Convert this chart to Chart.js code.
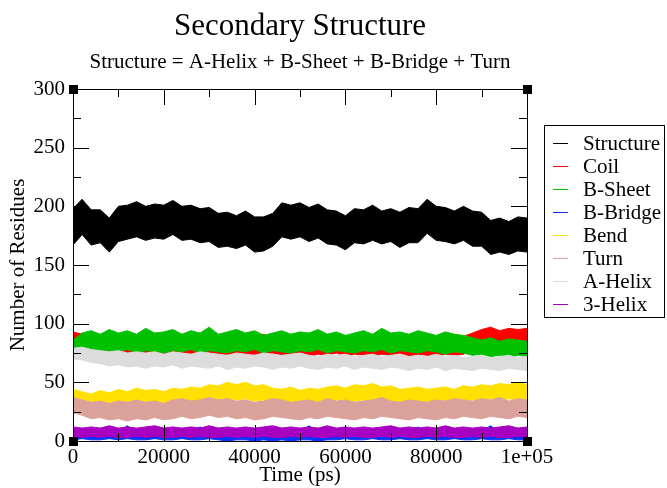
<!DOCTYPE html>
<html>
<head>
<meta charset="utf-8">
<title>Secondary Structure</title>
<style>
  html, body { margin: 0; padding: 0; background: #ffffff; }
  #wrap { width: 667px; height: 488px; }
</style>
<script src="https://cdn.jsdelivr.net/npm/chart.js@4.4.1/dist/chart.umd.min.js"></script>
</head>
<body>
<div id="wrap"><canvas id="ssChart" width="667" height="488"></canvas></div>
<script>
// time axis (ps), one sample every 2000 ps
const timePs = [
    0, 2000, 4000, 6000, 8000, 10000, 12000, 14000, 16000, 18000,
    20000, 22000, 24000, 26000, 28000, 30000, 32000, 34000, 36000, 38000,
    40000, 42000, 44000, 46000, 48000, 50000, 52000, 54000, 56000, 58000,
    60000, 62000, 64000, 66000, 68000, 70000, 72000, 74000, 76000, 78000,
    80000, 82000, 84000, 86000, 88000, 90000, 92000, 94000, 96000, 98000,
    100000
];

const seriesNames = ['Structure', 'Coil', 'B-Sheet', 'B-Bridge', 'Bend', 'Turn', 'A-Helix', '3-Helix'];
const seriesColors = ['#000000', '#ff0000', '#00c000', '#0033ff', '#ffe000', '#dba29c', '#dcdcdc', '#a800c0'];

const xTickLabels = ['0', '20000', '40000', '60000', '80000', '1e+05'];
const yTickLabels = ['0', '50', '100', '150', '200', '250', '300'];

// lower / upper edge of each noisy band
const structureLow = [
    167, 176, 167, 169, 161, 170, 172, 174, 171, 173,
    172, 176, 171, 172, 169, 170, 165, 166, 164, 167,
    161, 162, 166, 174, 172, 174, 170, 173, 168, 167,
    163, 169, 168, 171, 168, 170, 165, 169, 169, 177,
    171, 170, 168, 171, 166, 166, 159, 161, 159, 162,
    161
];
const structureHigh = [
    198, 206, 197, 197, 190, 200, 201, 204, 200, 202,
    201, 205, 200, 201, 198, 199, 194, 195, 192, 196,
    191, 191, 194, 203, 201, 203, 199, 202, 197, 196,
    192, 198, 197, 201, 196, 198, 195, 199, 198, 206,
    200, 199, 196, 200, 196, 195, 188, 190, 187, 191,
    190
];
const coilLow = [
    76, 77, 75, 73, 74, 72, 74, 73, 75, 72,
    74, 73, 72, 74, 73, 75, 72, 74, 73, 72,
    74, 73, 75, 72, 74, 73, 72, 74, 73, 75,
    72, 74, 73, 72, 74, 73, 75, 72, 74, 73,
    72, 74, 73, 74, 77, 81, 80, 82, 80, 81,
    80
];
const coilHigh = [
    93, 91, 88, 90, 87, 89, 91, 88, 90, 87,
    92, 88, 90, 87, 89, 91, 88, 90, 87, 89,
    88, 91, 87, 89, 88, 90, 87, 89, 91, 88,
    90, 87, 89, 88, 90, 87, 89, 88, 91, 87,
    89, 88, 90, 89, 92, 95, 97, 94, 96, 95,
    96
];
const sheetLow = [
    78, 76, 77, 75, 77, 76, 78, 75, 77, 76,
    75, 77, 76, 78, 75, 77, 76, 75, 77, 76,
    78, 75, 77, 76, 75, 77, 76, 78, 75, 77,
    76, 75, 77, 76, 78, 75, 77, 76, 75, 77,
    76, 74, 76, 75, 73, 74, 72, 73, 71, 73,
    72
];
const sheetHigh = [
    86, 92, 94, 91, 95, 92, 94, 91, 96, 92,
    93, 95, 91, 94, 92, 97, 91, 93, 95, 92,
    94, 90, 92, 94, 91, 93, 92, 95, 91, 93,
    90, 92, 94, 91, 96, 92, 93, 91, 94, 92,
    90, 93, 91, 90, 88, 86, 88, 85, 87, 86,
    85
];
const bridgeLow = [
    1, 2, 1, 1, 2, 1, 2, 1, 1, 2,
    1, 1, 2, 1, 1, 2, 1, 0, 1, 1,
    0, 1, 0, 1, 0, 1, 1, 0, 1, 1,
    2, 1, 1, 2, 1, 1, 2, 1, 1, 2,
    1, 1, 2, 1, 1, 2, 1, 1, 2, 1,
    1
];
const bridgeHigh = [
    9, 8, 10, 7, 9, 8, 13, 7, 9, 8,
    10, 7, 9, 8, 12, 7, 9, 8, 10, 7,
    9, 8, 11, 7, 9, 8, 13, 7, 9, 8,
    11, 7, 9, 8, 10, 7, 9, 8, 12, 7,
    9, 8, 10, 7, 9, 8, 13, 7, 9, 8,
    10
];
const bendLow = [
    35, 34, 31, 30, 32, 30, 31, 33, 30, 32,
    31, 33, 32, 34, 33, 35, 34, 36, 35, 36,
    34, 35, 33, 32, 33, 31, 32, 33, 34, 35,
    33, 34, 35, 34, 33, 34, 32, 33, 34, 33,
    32, 34, 33, 34, 35, 34, 36, 35, 36, 35,
    36
];
const bendHigh = [
    44, 42, 40, 43, 41, 44, 42, 45, 43, 44,
    42, 45, 44, 46, 45, 48, 47, 50, 48, 50,
    47, 48, 45, 44, 46, 43, 45, 44, 46, 47,
    45, 48, 47, 49, 46, 47, 44, 45, 46, 44,
    45, 46, 44, 47, 46, 48, 47, 49, 48, 50,
    48
];
const turnLow = [
    24, 22, 19, 20, 18, 19, 17, 19, 18, 20,
    18, 19, 21, 19, 20, 22, 20, 21, 19, 20,
    18, 19, 21, 20, 19, 18, 20, 19, 21, 20,
    19, 18, 20, 19, 21, 20, 19, 18, 20, 19,
    18, 20, 19, 21, 20, 19, 21, 20, 19, 21,
    20
];
const turnHigh = [
    37, 35, 33, 34, 32, 34, 33, 35, 33, 34,
    32, 35, 36, 34, 35, 37, 35, 36, 34, 35,
    33, 34, 36, 35, 33, 34, 35, 33, 36, 34,
    35, 33, 34, 35, 37, 34, 33, 35, 34, 33,
    35, 34, 36, 35, 34, 36, 35, 37, 34, 36,
    35
];
const aHelixLow = [
    70, 69, 67, 66, 64, 65, 63, 64, 62, 64,
    63, 65, 62, 64, 63, 62, 64, 61, 63, 62,
    64, 63, 61, 63, 62, 64, 62, 61, 63, 62,
    64, 61, 63, 62, 61, 63, 62, 60, 62, 61,
    63, 60, 62, 61, 60, 62, 61, 60, 62, 61,
    60
];
const aHelixHigh = [
    79, 80, 78, 77, 76, 77, 75, 76, 75, 76,
    74, 76, 75, 74, 76, 75, 74, 73, 75, 74,
    73, 75, 74, 73, 74, 75, 73, 72, 74, 73,
    74, 72, 73, 74, 72, 73, 74, 72, 73, 72,
    74, 72, 73, 71, 72, 73, 71, 72, 73, 71,
    72
];
const helix3Low = [
    4, 3, 4, 3, 4, 3, 3, 4, 3, 4,
    3, 3, 4, 3, 4, 3, 3, 4, 3, 4,
    3, 4, 3, 3, 4, 3, 4, 3, 3, 4,
    3, 4, 3, 3, 4, 3, 4, 3, 3, 4,
    3, 4, 3, 3, 4, 3, 4, 3, 3, 4,
    3
];
const helix3High = [
    12, 11, 12, 11, 13, 11, 12, 11, 12, 13,
    11, 12, 11, 12, 11, 13, 11, 12, 11, 12,
    11, 12, 13, 11, 12, 11, 12, 11, 13, 11,
    12, 11, 12, 11, 12, 13, 11, 12, 11, 12,
    11, 13, 11, 12, 11, 12, 11, 12, 13, 11,
    12
];

const bands = [
    [structureLow, structureHigh],
    [coilLow, coilHigh],
    [sheetLow, sheetHigh],
    [bridgeLow, bridgeHigh],
    [bendLow, bendHigh],
    [turnLow, turnHigh],
    [aHelixLow, aHelixHigh],
    [helix3Low, helix3High]
];

const serif = '"Liberation Serif", "Times New Roman", serif';
Chart.defaults.font.family = serif;
Chart.defaults.color = '#000000';

const toPoints = function (values) {
    return values.map(function (v, i) {
        return { x: timePs[i], y: v };
    });
};

// each series = a lower edge plus an upper edge filled down to it;
// later series sit on top, like grace draws them
const datasets = [];
seriesNames.forEach(function (name, k) {
    datasets.push({
        label: name,
        data: toPoints(bands[k][0]),
        borderColor: seriesColors[k],
        borderWidth: 1,
        pointRadius: 0,
        fill: false,
        order: 20 - k
    });
    datasets.push({
        label: name,
        data: toPoints(bands[k][1]),
        borderColor: seriesColors[k],
        backgroundColor: seriesColors[k],
        borderWidth: 1,
        pointRadius: 0,
        fill: '-1',
        order: 20 - k
    });
});

const graceDecor = {
    id: 'graceDecor',
    afterDraw: function (chart) {
        const ctx = chart.ctx;
        const area = chart.chartArea;
        const xs = chart.scales.x;
        const ys = chart.scales.y;

        ctx.save();
        ctx.strokeStyle = '#000000';
        ctx.lineWidth = 1;
        ctx.strokeRect(area.left + 0.5, area.top + 0.5, area.right - area.left, area.bottom - area.top);

        // inward ticks on all four sides
        ctx.beginPath();
        for (let t = 0; t <= 100000; t += 10000) {
            const px = Math.round(xs.getPixelForValue(t)) + 0.5;
            const len = t % 20000 === 0 ? 16 : 8;
            ctx.moveTo(px, area.bottom);
            ctx.lineTo(px, area.bottom - len);
            ctx.moveTo(px, area.top);
            ctx.lineTo(px, area.top + len);
        }
        for (let v = 0; v <= 300; v += 25) {
            const py = Math.round(ys.getPixelForValue(v)) + 0.5;
            const len = v % 50 === 0 ? 16 : 8;
            ctx.moveTo(area.left, py);
            ctx.lineTo(area.left + len, py);
            ctx.moveTo(area.right, py);
            ctx.lineTo(area.right - len, py);
        }
        ctx.stroke();

        // corner handles
        ctx.fillStyle = '#000000';
        [[area.left, area.top], [area.right, area.top], [area.left, area.bottom], [area.right, area.bottom]].forEach(function (c) {
            ctx.fillRect(Math.round(c[0]) - 4, Math.round(c[1]) - 4, 9, 9);
        });

        // titles
        ctx.textAlign = 'center';
        ctx.textBaseline = 'alphabetic';
        ctx.font = '31px ' + serif;
        ctx.fillText('Secondary Structure', (area.left + area.right) / 2, 35);
        ctx.font = '21px ' + serif;
        ctx.fillText('Structure = A-Helix + B-Sheet + B-Bridge + Turn', (area.left + area.right) / 2, 68);

        // legend box
        ctx.strokeStyle = '#000000';
        ctx.strokeRect(544.5, 125.5, 120, 192);
        ctx.textAlign = 'left';
        ctx.font = '21px ' + serif;
        seriesNames.forEach(function (name, k) {
            const y = 143 + k * 23;
            ctx.strokeStyle = seriesColors[k];
            ctx.beginPath();
            ctx.moveTo(553, y + 0.5);
            ctx.lineTo(568, y + 0.5);
            ctx.stroke();
            ctx.fillStyle = '#000000';
            ctx.fillText(name, 583, y + 7);
        });
        ctx.restore();
    }
};

new Chart(document.getElementById('ssChart'), {
    type: 'line',
    data: { datasets: datasets },
    options: {
        responsive: false,
        animation: false,
        layout: { padding: { left: 0, right: 140, top: 89, bottom: 0 } },
        elements: { line: { tension: 0 }, point: { radius: 0 } },
        plugins: {
            legend: { display: false },
            tooltip: { enabled: false },
            filler: { propagate: false }
        },
        scales: {
            x: {
                type: 'linear',
                min: 0,
                max: 100000,
                grid: { display: false, drawTicks: false },
                border: { display: false },
                ticks: {
                    stepSize: 20000,
                    autoSkip: false,
                    maxRotation: 0,
                    padding: 4,
                    color: '#000000',
                    font: { size: 21 },
                    callback: function (value, index) {
                        return xTickLabels[index];
                    }
                },
                title: {
                    display: true,
                    text: 'Time (ps)',
                    color: '#000000',
                    font: { size: 21 },
                    padding: { top: 0, bottom: 0 }
                },
                afterFit: function (scale) {
                    scale.height = 47;
                }
            },
            y: {
                min: 0,
                max: 300,
                grid: { display: false, drawTicks: false },
                border: { display: false },
                ticks: {
                    stepSize: 50,
                    padding: 8,
                    color: '#000000',
                    font: { size: 21 },
                    callback: function (value, index) {
                        return yTickLabels[index];
                    }
                },
                title: {
                    display: true,
                    text: 'Number of Residues',
                    color: '#000000',
                    font: { size: 21 },
                    padding: { top: 6, bottom: 0 }
                },
                afterFit: function (scale) {
                    scale.width = 73;
                }
            }
        }
    },
    plugins: [graceDecor]
});
</script>
</body>
</html>
